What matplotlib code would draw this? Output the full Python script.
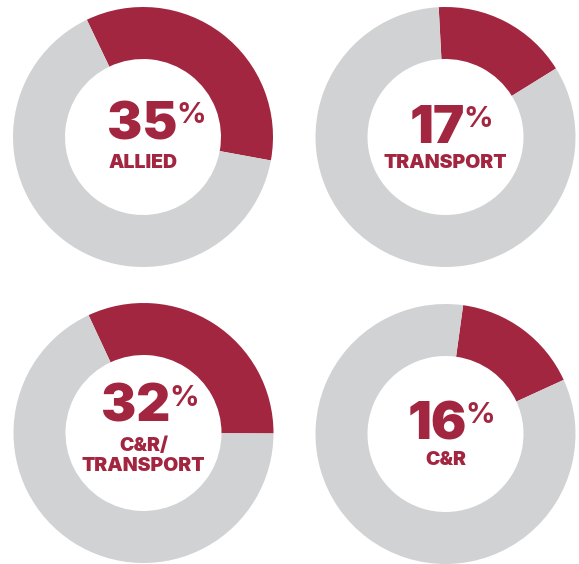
import matplotlib
matplotlib.use('Agg')
import matplotlib.pyplot as plt

# 数据
shares = [35, 17, 32, 16]
labels = ['ALLIED', 'TRANSPORT', 'C&R/\nTRANSPORT', 'C&R']
# 红色扇区起点（从正上方顺时针的角度，负数为逆时针）
start_from_top = [-25.6, -3, -25, 7.8]

RED = '#a32640'
GREY = '#d1d2d4'
FONT = 'Inter'

# 版面（像素，图片坐标）
centers = [(143, 137), (445.5, 137), (143.5, 433), (445.5, 434)]
num_dx = [-0.5, -8, -7.5, -8.5]
num_base = [139, 143, 422, 439]
lab_base = [168, 168, 471, 465]
R = 130
W = 52

W_PX, H_PX = 579, 564
fig = plt.figure(figsize=(W_PX / 100, H_PX / 100), dpi=100)
ax = fig.add_axes([0, 0, 1, 1])

for i in range(4):
    cx, cy = centers[i]
    cy = H_PX - cy
    ax.pie([shares[i], 100 - shares[i]], colors=[RED, GREY],
           startangle=90 - start_from_top[i], counterclock=False,
           radius=R, center=(cx, cy),
           wedgeprops=dict(width=W, edgecolor='none', linewidth=0))
    num = ax.text(cx + num_dx[i], H_PX - num_base[i], str(shares[i]),
                  ha='center', va='baseline', fontsize=38, color=RED,
                  family=FONT, weight='black')
    ax.annotate('%', xy=(1, 0.97), xycoords=num, xytext=(-1, 0),
                textcoords='offset points', ha='left', va='top',
                fontsize=21, color=RED, family=FONT, weight='bold')
    ax.text(cx, H_PX - lab_base[i], labels[i], ha='center', va='baseline',
            fontsize=14, color=RED, family=FONT, weight='black',
            linespacing=1.15)

ax.set_xlim(0, W_PX)
ax.set_ylim(0, H_PX)
ax.set_aspect('equal')
ax.axis('off')

fig.savefig('out.png', dpi=100)
